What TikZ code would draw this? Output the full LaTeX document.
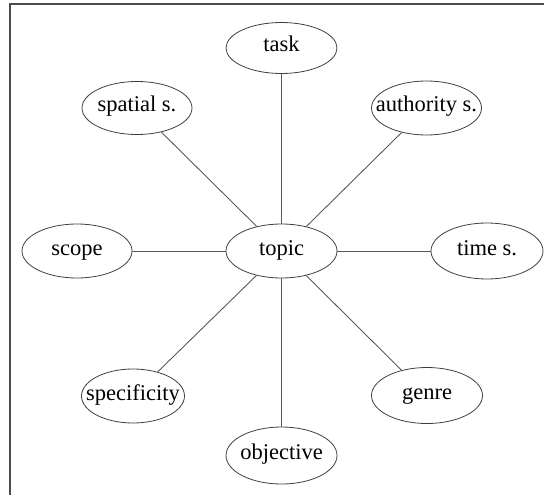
\documentclass[tikz,border=0pt]{standalone}
\usepackage{fontspec}
\setmainfont{Liberation Serif}
\usetikzlibrary{shapes.geometric}
\newcommand\blab[1]{\makebox[0pt]{#1}}
\begin{document}
\begin{tikzpicture}[x=1pt,y=-1pt,
  bub/.style={ellipse,draw=black!75,line width=0.8pt,inner sep=0pt,
    minimum width=111pt,minimum height=54pt,text height=13pt,text depth=5pt,
    font=\fontsize{22.5}{27}\selectfont},
  link/.style={draw=black!65,line width=0.9pt},
  frame/.style={draw=black!70,line width=1.4pt}]
\useasboundingbox (0,0) rectangle (544,495);
\coordinate (fbl) at (10,496);
\coordinate (ftl) at (10,4);
\coordinate (ftr) at (545,4);
\draw[frame] (fbl) -- (ftl) -- (ftr);
\node[bub] (topic) at (281.5,251) {\blab{topic}};
\node[bub,minimum height=51pt] (task) at (281.5,48) {\blab{task}};
\node[bub,minimum width=110pt,minimum height=53pt] (spatial) at (137,108) {\blab{spatial s.}};
\node[bub,minimum width=110pt,minimum height=54pt] (authority) at (426.5,108) {\blab{authority s.}};
\node[bub,minimum width=110pt] (scope) at (77,251) {\blab{scope}};
\node[bub,minimum width=112pt,minimum height=56pt] (time) at (487,251) {\blab{time s.}};
\node[bub,minimum width=103pt] (specificity) at (133,396) {\blab{specificity}};
\node[bub,minimum height=56pt] (genre) at (427,395.5) {\blab{genre}};
\node[bub,minimum height=57pt] (objective) at (281.5,455.5) {\blab{objective}};
\foreach \n in {task,spatial,authority,scope,time,specificity,genre,objective}
  \draw[link] (topic) -- (\n);
\end{tikzpicture}
\end{document}
